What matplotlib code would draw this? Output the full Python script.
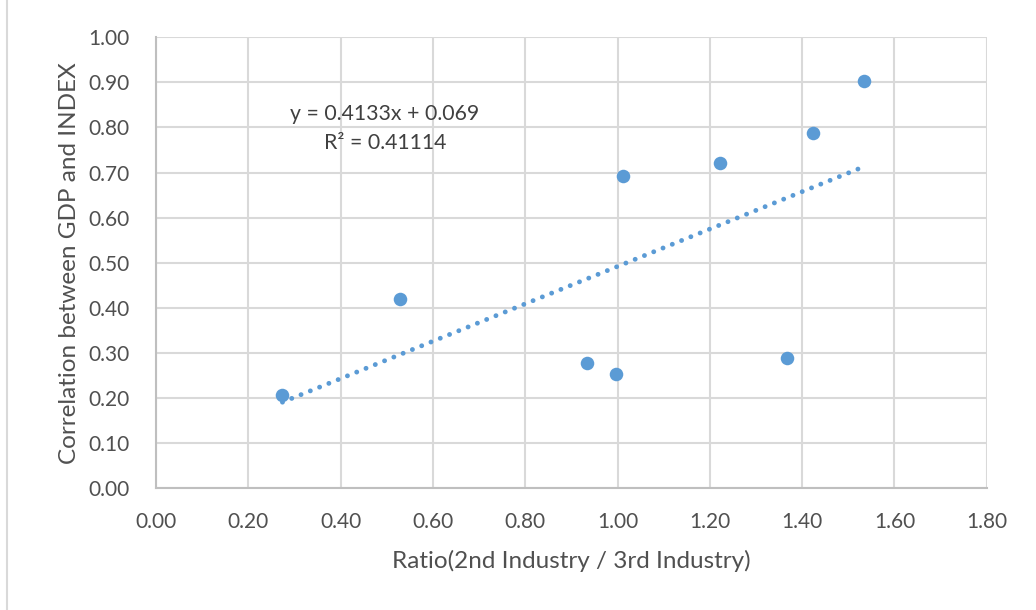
import numpy as np
import matplotlib
matplotlib.use("Agg")
import matplotlib.pyplot as plt
from matplotlib.lines import Line2D

ratio = [0.274, 0.529, 0.933, 0.996, 1.013, 1.222, 1.367, 1.424, 1.534]
correlation = [0.206, 0.419, 0.277, 0.253, 0.692, 0.722, 0.288, 0.787, 0.904]
x_ticks = [0.0, 0.2, 0.4, 0.6, 0.8, 1.0, 1.2, 1.4, 1.6, 1.8]
y_ticks = [0.0, 0.1, 0.2, 0.3, 0.4, 0.5, 0.6, 0.7, 0.8, 0.9, 1.0]
eq_text = "y = 0.4133x + 0.069"
r2_text = "R² = 0.41114"
x_label = "Ratio(2nd Industry / 3rd Industry)"
y_label = "Correlation between GDP and INDEX"

plt.rcParams['font.family'] = ['Lato', 'DejaVu Sans']
blue = "#5B9BD5"
grid = "#D9D9D9"
spine = "#BFBFBF"
txt = "#505050"

W, H = 1036, 610
fig = plt.figure(figsize=(W/100, H/100), dpi=100)
L, R, T, B = 156, 986.7, 37.3, 488.3
ax = fig.add_axes([L/W, 1-B/H, (R-L)/W, (B-T)/H])

x = np.array(ratio)
y = np.array(correlation)
m, b = np.polyfit(x, y, 1)
xs = np.array([x.min(), x.max()])
ax.plot(xs, m*xs + b, linestyle=(0, (0.01, 2.05)), color=blue, linewidth=3.5,
        dash_capstyle='round', zorder=3)
ax.scatter(x, y, s=95, color=blue, zorder=4, linewidths=0)

ax.set_xlim(0, 1.8)
ax.set_ylim(0, 1.0)
ax.set_xticks(x_ticks)
ax.set_yticks(y_ticks)
ax.set_xticklabels([f"{v:.2f}" for v in x_ticks])
ax.set_yticklabels([f"{v:.2f}" for v in y_ticks])
ax.grid(True, color=grid, linewidth=1.5, zorder=0)
ax.set_axisbelow(True)
for s in ['top', 'right']:
    ax.spines[s].set_visible(False)
for s in ['left', 'bottom']:
    ax.spines[s].set_color(spine)
    ax.spines[s].set_linewidth(1.5)
ax.tick_params(axis='x', length=0, labelsize=15, colors=txt, pad=17)
ax.tick_params(axis='y', length=0, labelsize=15, colors=txt, pad=19)
ax.set_xlabel(x_label, fontsize=17.5, color=txt, labelpad=13)
ax.set_ylabel(y_label, fontsize=17.5, color=txt, labelpad=6)

ax.text(0.496, 0.830, eq_text, ha='center', va='center', fontsize=15.3, color="#404040")
ax.text(0.496, 0.766, r2_text, ha='center', va='center', fontsize=15.3, color="#404040")

fig.add_artist(Line2D([7/W, 7/W], [0, 1], color="#D9D9D9", linewidth=1.5))

fig.savefig("out.png", dpi=100, facecolor="white")
